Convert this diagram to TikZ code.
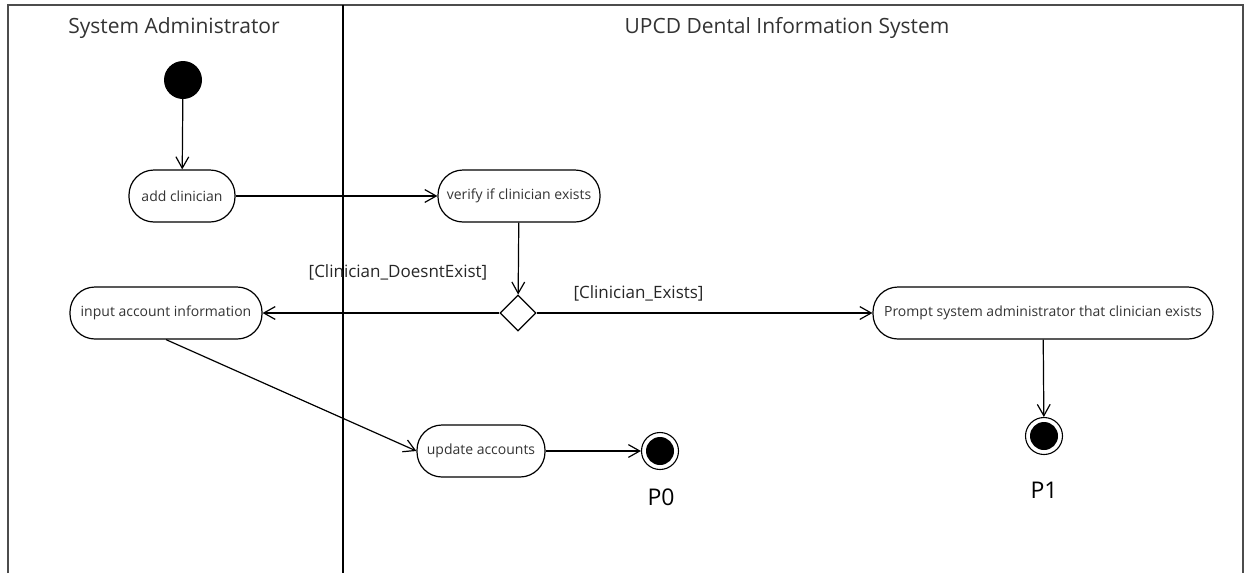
\documentclass[tikz,border=0pt]{standalone}
\usepackage{fontspec}
\setmainfont{Open Sans}
\usepackage{tikz}
\usetikzlibrary{arrows.meta,positioning,shapes.geometric}

\begin{document}
\begin{tikzpicture}[x=1pt,y=-1pt, every node/.style={font=\fontsize{14}{16}\selectfont},
  act/.style={draw,line width=1.2pt,rounded corners=25pt,minimum height=52,inner xsep=8pt,text=black!80},
  initial/.style={circle,fill=black,minimum size=38,inner sep=0},
  final/.style={circle,draw,line width=1.1pt,minimum size=37,inner sep=0,path picture={\fill (path picture bounding box.center) circle (14);}},
  decision/.style={diamond,draw,line width=1.2pt,fill=white,minimum width=36,minimum height=36,inner sep=0},
  lane/.style={font=\fontsize{21}{24}\selectfont,text=black!80},
  guard/.style={font=\fontsize{17}{20}\selectfont,text=black!85},
  plabel/.style={font=\fontsize{23}{26}\selectfont},
  arr/.style={-{Straight Barb[length=4mm,width=4.5mm]},line width=1.2pt}]
\useasboundingbox (0,0) rectangle (1247,573);
\draw[line width=2pt,black!70] (8,573) -- (8,5) -- (1243,5) -- (1243,573);
\draw[line width=1.8pt] (343,5) -- (343,573);
\node[lane] (lane1) at (174,28) {System Administrator};
\node[lane] (lane2) at (787,28) {UPCD Dental Information System};
\node[initial] (start) at (183,80) {};
\node[act,minimum width=106] (add) at (182,196) {add clinician};
\node[act,minimum width=162] (verify) at (519,196) {verify if clinician exists};
\node[decision] (dec) at (518,313) {};
\node[act,minimum width=192] (input) at (166,313) {input account information};
\node[act,minimum width=340] (prompt) at (1043,313) {Prompt system administrator that clinician exists};
\node[act,minimum width=128] (update) at (481,451) {update accounts};
\node[final] (p0) at (660,451) {};
\node[final] (p1) at (1044,436) {};
\node[plabel] at (661,497) {P0};
\node[plabel] at (1044,490) {P1};
\node[guard] (g1) at (398,272) {[Clinician\_DoesntExist]};
\node[guard,anchor=west] (g2) at (570,293) {[Clinician\_Exists]};
\draw[arr] (start) -- (add);
\draw[arr] (add) -- (verify);
\draw[arr] (verify) -- (dec);
\draw[arr] (dec) -- (input);
\draw[arr] (dec) -- (prompt);
\draw[arr] (input.south) -- (update.west);
\draw[arr] (update) -- (p0);
\draw[arr] (prompt) -- (p1);
\end{tikzpicture}
\end{document}
